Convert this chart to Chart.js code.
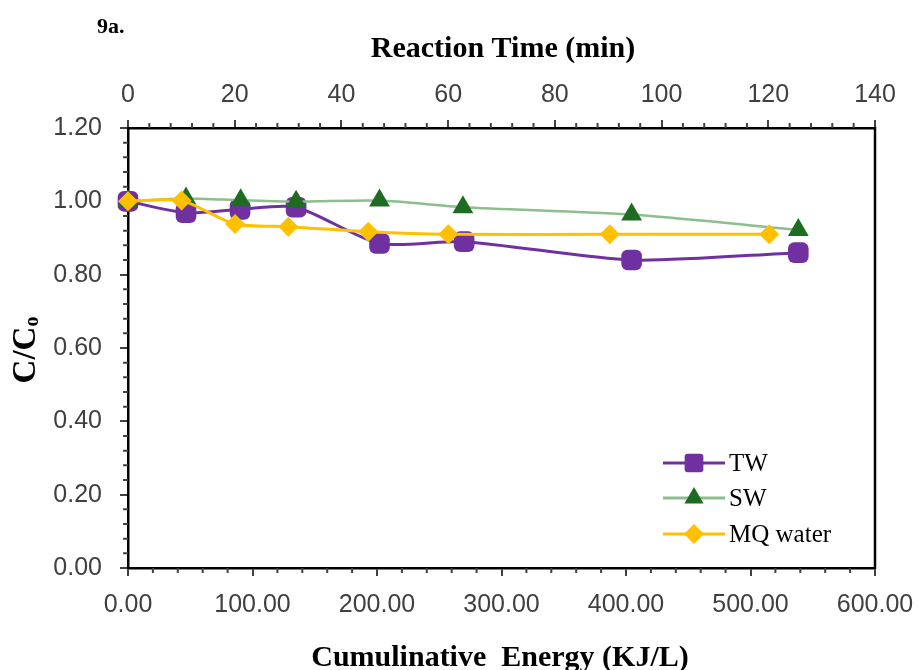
<!DOCTYPE html>
<html>
<head>
<meta charset="utf-8">
<script src="https://cdn.jsdelivr.net/npm/chart.js@4/dist/chart.umd.min.js"></script>
<style>
  html, body { margin: 0; padding: 0; background: #fff; }
  canvas { display: block; }
</style>
</head>
<body>
<canvas id="myChart" width="918" height="670"></canvas>
<script>
// cumulative energy (KJ/L) and C/Co for each water matrix
const energyTW = [0, 46.6, 90, 135, 202, 270, 404.5, 538.4];
const ratioTW = [1.00, 0.969, 0.978, 0.984, 0.885, 0.890, 0.840, 0.860];

const energySW = [0, 46.6, 90.5, 135, 202, 269, 404.5, 538.4];
const ratioSW = [1.00, 1.008, 1.003, 0.999, 1.002, 0.984, 0.964, 0.922];

const energyMQ = [0, 43, 86, 128.8, 193, 257.3, 387, 515];
const ratioMQ = [1.00, 1.002, 0.938, 0.931, 0.917, 0.910, 0.910, 0.910];

const seriesNames = ['TW', 'SW', 'MQ water'];

const toPoints = (xs, ys) => xs.map((x, i) => ({ x: x, y: ys[i] }));

const PURPLE = '#7030A0';
const GREEN_LINE = '#8DBE8D';
const GREEN_MARK = '#1E6B22';
const YELLOW = '#FFC000';

const tickFont = { family: "'Liberation Sans', Arial, sans-serif", size: 25 };
const serifBold = "'Liberation Serif', 'Times New Roman', serif";

// little marker painter, used for the legend
function drawMarker(ctx, style, x, y, r, color) {
  ctx.save();
  ctx.fillStyle = color;
  ctx.beginPath();
  if (style === 'rect') {
    const s = r * 0.85;
    ctx.roundRect(x - s, y - s, 2 * s, 2 * s, 3);
  } else if (style === 'triangle') {
    ctx.moveTo(x, y - r);
    ctx.lineTo(x + r * 0.87, y + r * 0.5);
    ctx.lineTo(x - r * 0.87, y + r * 0.5);
    ctx.closePath();
  } else {
    ctx.moveTo(x, y - r);
    ctx.lineTo(x + r, y);
    ctx.lineTo(x, y + r);
    ctx.lineTo(x - r, y);
    ctx.closePath();
  }
  ctx.fill();
  ctx.restore();
}

// fixed axis box sizes; label overhang is allowed to spill into the margin
const fixHeight = h => s => { s.height = h; s.paddingLeft = 0; s.paddingRight = 0; };

// minor ticks, right border, titles and the legend
const decorations = {
  id: 'decorations',
  afterDraw(chart) {
    const ctx = chart.ctx;
    const area = chart.chartArea;
    const sx = chart.scales.x, sx2 = chart.scales.x2, sy = chart.scales.y;

    ctx.save();
    ctx.strokeStyle = '#404040';
    ctx.lineWidth = 2;
    ctx.beginPath();
    for (let v = 0; v <= 600; v += 20) {
      if (v % 100 === 0) continue;
      const px = sx.getPixelForValue(v);
      ctx.moveTo(px, area.bottom);
      ctx.lineTo(px, area.bottom + 5);
    }
    for (let v = 0; v <= 140; v += 4) {
      if (v % 20 === 0) continue;
      const px = sx2.getPixelForValue(v);
      ctx.moveTo(px, area.top);
      ctx.lineTo(px, area.top - 5);
    }
    for (let i = 0; i <= 30; i++) {
      if (i % 5 === 0) continue;
      const py = sy.getPixelForValue(i * 0.04);
      ctx.moveTo(area.left, py);
      ctx.lineTo(area.left - 5, py);
    }
    ctx.stroke();

    // right side of the frame
    ctx.strokeStyle = '#000';
    ctx.lineWidth = 2.5;
    ctx.beginPath();
    ctx.moveTo(area.right, area.top - 1);
    ctx.lineTo(area.right, area.bottom + 1);
    ctx.stroke();

    // titles
    ctx.fillStyle = '#000';
    ctx.textBaseline = 'middle';
    ctx.textAlign = 'left';
    ctx.font = 'bold 22px ' + serifBold;
    ctx.fillText('9a.', 97, 27);

    ctx.textAlign = 'center';
    ctx.font = 'bold 30px ' + serifBold;
    ctx.fillText('Reaction Time (min)', 503, 49);
    ctx.fillText('Cumulinative  Energy (KJ/L)', 500, 658);

    // C/Co, rotated, with subscript o
    ctx.save();
    ctx.translate(26, 350);
    ctx.rotate(-Math.PI / 2);
    ctx.font = 'bold 33px ' + serifBold;
    const main = 'C/C';
    const wMain = ctx.measureText(main).width;
    ctx.font = 'bold 20px ' + serifBold;
    const wSub = ctx.measureText('o').width;
    const start = -(wMain + wSub) / 2;
    ctx.textAlign = 'left';
    ctx.font = 'bold 33px ' + serifBold;
    ctx.fillText(main, start, 0);
    ctx.font = 'bold 20px ' + serifBold;
    ctx.fillText('o', start + wMain, 7);
    ctx.restore();

    // legend inside the plot
    const rows = [
      { style: 'rect', line: PURPLE, mark: PURPLE, y: 463 },
      { style: 'triangle', line: GREEN_LINE, mark: GREEN_MARK, y: 498 },
      { style: 'rectRot', line: YELLOW, mark: YELLOW, y: 534 }
    ];
    rows.forEach((row, i) => {
      ctx.strokeStyle = row.line;
      ctx.lineWidth = 3;
      ctx.beginPath();
      ctx.moveTo(663, row.y);
      ctx.lineTo(725, row.y);
      ctx.stroke();
      drawMarker(ctx, row.style, 694, row.y, row.style === 'rectRot' ? 10 : 11, row.mark);
      ctx.fillStyle = '#000';
      ctx.textAlign = 'left';
      ctx.font = '25px ' + serifBold;
      ctx.fillText(seriesNames[i], 729, row.y + 1);
    });
    ctx.restore();
  }
};

const ctx = document.querySelector('#myChart').getContext('2d');

new Chart(ctx, {
  type: 'line',
  data: {
    datasets: [
      {
        label: seriesNames[0],
        data: toPoints(energyTW, ratioTW),
        borderColor: PURPLE,
        backgroundColor: PURPLE,
        borderWidth: 3,
        pointStyle: 'rectRounded',
        pointRadius: 12,
        pointBorderWidth: 0,
        order: 3
      },
      {
        label: seriesNames[1],
        data: toPoints(energySW, ratioSW),
        borderColor: GREEN_LINE,
        backgroundColor: GREEN_MARK,
        pointBorderColor: GREEN_MARK,
        borderWidth: 2.5,
        pointStyle: 'triangle',
        pointRadius: 12,
        pointBorderWidth: 0,
        order: 2
      },
      {
        label: seriesNames[2],
        data: toPoints(energyMQ, ratioMQ),
        borderColor: YELLOW,
        backgroundColor: YELLOW,
        borderWidth: 3,
        pointStyle: 'rectRot',
        pointRadius: 10,
        pointBorderWidth: 0,
        order: 1
      }
    ]
  },
  options: {
    responsive: false,
    animation: false,
    devicePixelRatio: 1,
    clip: false,
    elements: { line: { tension: 0.25 } },
    layout: { padding: { left: 0, right: 43, top: 0, bottom: 0 } },
    plugins: {
      legend: { display: false },
      tooltip: { enabled: false }
    },
    scales: {
      x: {
        type: 'linear',
        position: 'bottom',
        min: 0,
        max: 600,
        afterFit: fixHeight(102),
        ticks: {
          stepSize: 100,
          font: tickFont,
          color: '#404040',
          padding: 14,
          maxRotation: 0,
          callback: v => v.toFixed(2)
        },
        grid: { drawOnChartArea: false, tickLength: 8, color: '#404040', lineWidth: 2 },
        border: { color: '#000', width: 2.5 }
      },
      x2: {
        type: 'linear',
        position: 'top',
        min: 0,
        max: 140,
        afterFit: fixHeight(128),
        ticks: {
          stepSize: 20,
          font: tickFont,
          color: '#404040',
          padding: 10,
          maxRotation: 0
        },
        grid: { drawOnChartArea: false, tickLength: 8, color: '#404040', lineWidth: 2 },
        border: { color: '#000', width: 2.5 }
      },
      y: {
        min: 0,
        max: 1.2,
        afterFit: s => { s.width = 128; s.paddingTop = 0; s.paddingBottom = 0; },
        ticks: {
          stepSize: 0.2,
          font: tickFont,
          color: '#404040',
          padding: 18,
          callback: v => v.toFixed(2)
        },
        grid: { drawOnChartArea: false, tickLength: 8, color: '#404040', lineWidth: 2 },
        border: { color: '#000', width: 2.5 }
      }
    }
  },
  plugins: [decorations]
});
</script>
</body>
</html>
